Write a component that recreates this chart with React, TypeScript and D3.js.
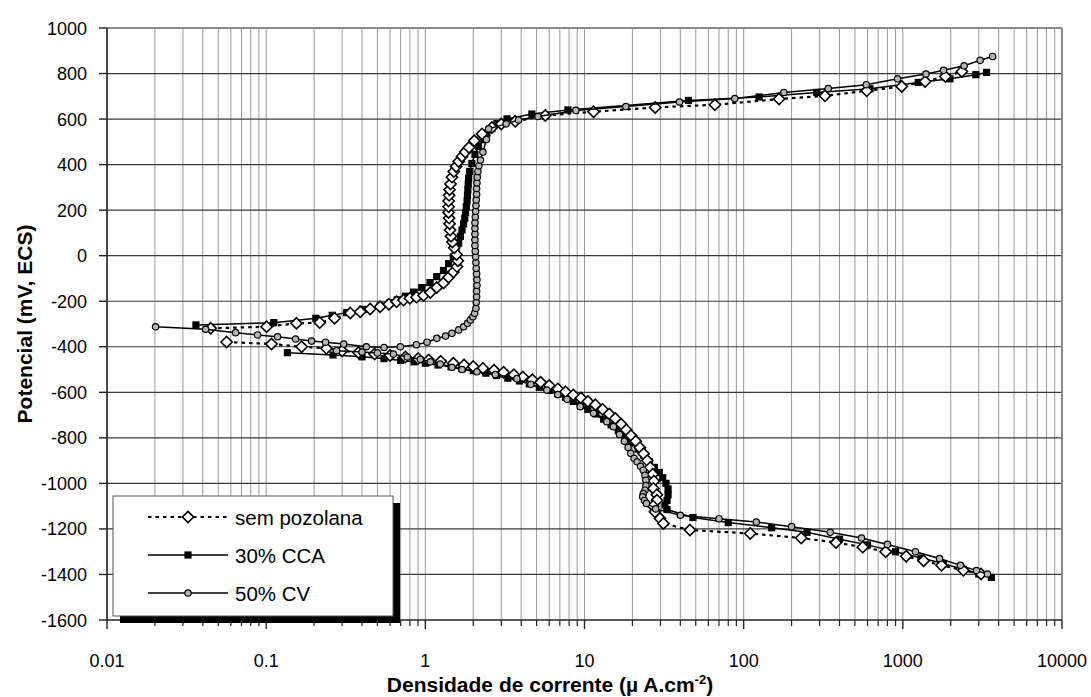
import React from 'react';
import * as d3 from 'd3';

type Pt = [number, number]; // [current density µA/cm², potential mV]

const xTickValues = [0.01, 0.1, 1, 10, 100, 1000, 10000];
const xTickLabels = ['0.01', '0.1', '1', '10', '100', '1000', '10000'];
const yTickValues = [-1600, -1400, -1200, -1000, -800, -600, -400, -200, 0, 200, 400, 600, 800, 1000];
const yTickLabels = ['-1600', '-1400', '-1200', '-1000', '-800', '-600', '-400', '-200', '0', '200', '400', '600', '800', '1000'];
const seriesNames = ['sem pozolana', '30% CCA', '50% CV'];

// sem pozolana (diamonds)
const semPozolanaCatodico: Pt[] = [
  [0.0564, -379], [0.108, -388], [0.167, -400], [0.239, -407], [0.30, -418], [0.38, -425], [0.48, -432],
  [0.6, -438], [0.75, -445], [0.9, -452], [1.05, -458], [1.25, -464], [1.5, -472], [1.75, -480], [2.0, -487],
  [2.3, -495], [2.7, -503], [3.1, -512], [3.6, -523], [4.1, -533], [4.7, -545], [5.3, -556], [6.0, -570],
  [6.8, -585], [7.6, -598], [8.5, -612], [9.5, -625], [10.5, -640], [11.7, -655], [13, -675], [14.3, -695],
  [15.6, -715], [17, -740], [18.3, -765], [19.6, -790], [21, -815], [22.3, -843], [23.5, -870], [24.8, -900],
  [25.9, -930], [26.8, -960], [27.3, -990], [27.1, -1022], [28.5, -1050], [28.5, -1074], [27.0, -1100],
  [27.7, -1125], [29.8, -1154], [31.3, -1176], [46, -1205], [110, -1220], [230, -1240], [380, -1260],
  [560, -1280], [780, -1300], [1050, -1320], [1350, -1340], [1750, -1360], [2400, -1382], [3100, -1398],
];
const semPozolanaAnodico: Pt[] = [
  [0.0448, -319], [0.1006, -312], [0.155, -297], [0.217, -294], [0.269, -275], [0.338, -252], [0.39, -246],
  [0.45, -234], [0.52, -224], [0.59, -213], [0.66, -202], [0.73, -195], [0.8, -187], [0.88, -182],
  [0.975, -175], [1.075, -162], [1.18, -140], [1.30, -120], [1.40, -95], [1.50, -72], [1.58, -48],
  [1.60, -22], [1.57, 5], [1.52, 35], [1.48, 60], [1.45, 85], [1.43, 113], [1.42, 140], [1.41, 165],
  [1.40, 190], [1.40, 215], [1.40, 240], [1.41, 265], [1.42, 290], [1.44, 315], [1.47, 345], [1.51, 370],
  [1.56, 392], [1.62, 414], [1.70, 436], [1.78, 455], [1.88, 475], [2.03, 505], [2.27, 535], [2.62, 563],
  [3.0, 578], [3.67, 590], [5.67, 616], [11.4, 632], [27.8, 651], [66, 663], [167, 688], [324, 702],
  [593, 724], [984, 743], [1380, 765], [1850, 787], [2350, 809],
];

// 30% CCA (filled squares)
const cca30Catodico: Pt[] = [
  [0.136, -426], [0.263, -436], [0.4, -444], [0.55, -452], [0.7, -460], [0.85, -466], [1.0, -472],
  [1.2, -480], [1.45, -488], [1.7, -496], [2.0, -505], [2.4, -516], [2.8, -526], [3.3, -538], [3.9, -550],
  [4.5, -563], [5.2, -578], [6.0, -592], [6.8, -607], [7.6, -622], [8.5, -640], [9.5, -658], [10.5, -675],
  [11.8, -695], [13.2, -718], [14.7, -743], [16.3, -768], [18, -795], [19.8, -822], [21.7, -850],
  [23.6, -878], [25.5, -905], [27.5, -930], [29.5, -952], [31, -975], [32.5, -1000], [33.5, -1025],
  [33.5, -1050], [33, -1075], [32, -1095], [33, -1115], [48, -1150], [80, -1172], [150, -1195],
  [250, -1215], [400, -1245], [600, -1270], [900, -1300], [1300, -1328], [1800, -1352], [2400, -1378],
  [3000, -1398], [3600, -1413],
];
const cca30Anodico: Pt[] = [
  [0.0362, -304], [0.1117, -294], [0.205, -275], [0.26, -262], [0.32, -250], [0.41, -236], [0.52, -220],
  [0.6, -207], [0.665, -194], [0.75, -178], [0.845, -160], [0.95, -140], [1.07, -118], [1.18, -92],
  [1.3, -65], [1.4, -35], [1.5, -5], [1.56, 25], [1.62, 55], [1.66, 85], [1.7, 113], [1.74, 140],
  [1.77, 165], [1.79, 190], [1.81, 215], [1.83, 240], [1.84, 265], [1.85, 290], [1.86, 315], [1.87, 340],
  [1.9, 370], [1.96, 405], [2.05, 445], [2.16, 480], [2.3, 510], [2.44, 538], [2.62, 558], [2.82, 580],
  [3.26, 601], [4.67, 622], [7.87, 640], [45, 682], [125, 697], [288, 717], [622, 733], [1250, 761],
  [1977, 777], [2877, 795], [3360, 805],
];

// 50% CV (grey circles)
const cv50Catodico: Pt[] = [
  [0.277, -417], [0.4, -423], [0.5, -427], [0.63, -432], [0.77, -445], [0.93, -455], [1.075, -466],
  [1.24, -476], [1.47, -490], [1.70, -500], [2.11, -510], [2.75, -522], [3.76, -540], [4.6, -565],
  [5.8, -590], [6.8, -610], [7.76, -631], [9.4, -663], [11.4, -692], [13.8, -729], [15.2, -751],
  [16.6, -785], [17.8, -815], [18.8, -842], [19.5, -868], [20.5, -890], [21.4, -905], [22.5, -925],
  [23.4, -942], [24, -965], [24.3, -986], [24.3, -1010], [24, -1030], [23.4, -1045], [23.2, -1059],
  [23.8, -1075], [24.5, -1088], [28, -1112], [40, -1140], [70, -1155], [120, -1170], [200, -1190],
  [350, -1215], [550, -1240], [800, -1268], [1200, -1300], [1700, -1330], [2300, -1360], [2900, -1383],
  [3400, -1398],
];
const cv50Anodico: Pt[] = [
  [0.0202, -312], [0.0417, -323], [0.0643, -338], [0.0883, -348], [0.118, -356], [0.153, -366],
  [0.193, -375], [0.236, -380], [0.307, -388], [0.426, -400], [0.55, -403], [0.697, -400], [0.878, -391],
  [1.025, -380], [1.18, -363], [1.34, -353], [1.47, -341], [1.62, -326], [1.74, -312], [1.84, -297],
  [1.92, -282], [1.99, -268], [2.04, -253], [2.08, -231], [2.09, -205], [2.1, -180], [2.1, -155],
  [2.11, -130], [2.11, -105], [2.1, -80], [2.09, -55], [2.08, -30], [2.07, -5], [2.06, 20], [2.05, 45],
  [2.05, 70], [2.05, 95], [2.05, 120], [2.05, 145], [2.06, 170], [2.07, 195], [2.08, 220], [2.09, 245],
  [2.1, 270], [2.1, 295], [2.11, 320], [2.12, 345], [2.14, 370], [2.17, 395], [2.22, 420], [2.3, 455],
  [2.42, 510], [2.5, 557], [3.22, 579], [3.85, 596], [5.1, 611], [8.83, 638], [18.2, 655], [39.5, 675],
  [88, 690], [179, 717], [340, 734], [589, 751], [927, 777], [1397, 798], [1803, 814], [2427, 834],
  [3060, 858], [3666, 875],
];

const FONT = "'Liberation Sans', Arial, Helvetica, sans-serif";

const diamondPath = 'M0,-5.6L5.6,0L0,5.6L-5.6,0Z';

function Marker({ kind, cx, cy }: { kind: number; cx: number; cy: number }) {
  if (kind === 0) {
    return <path d={diamondPath} transform={`translate(${cx},${cy})`} fill="#fff" stroke="#000" strokeWidth={1.6} />;
  }
  if (kind === 1) {
    return <rect x={cx - 3.6} y={cy - 3.6} width={7.2} height={7.2} fill="#000" />;
  }
  return <circle cx={cx} cy={cy} r={3.2} fill="#b4b4b4" stroke="#000" strokeWidth={1.2} />;
}

export default function App() {
  const W = 1091;
  const H = 697;
  const L = 107, R = 1062, T = 28, B = 620;
  const x = d3.scaleLog().domain([0.01, 10000]).range([L, R]);
  const y = d3.scaleLinear().domain([-1600, 1000]).range([B, T]);
  const line = d3.line<Pt>().x((d) => x(d[0])).y((d) => y(d[1]));

  const minor: number[] = [];
  xTickValues.slice(0, -1).forEach((dec) => {
    for (let k = 2; k <= 9; k++) minor.push(dec * k);
  });

  const series = [
    { kind: 1, branches: [cca30Catodico, cca30Anodico] },
    { kind: 0, branches: [semPozolanaCatodico, semPozolanaAnodico] },
    { kind: 2, branches: [cv50Catodico, cv50Anodico] },
  ];

  const legendX = 113, legendY = 496, legendW = 280, legendH = 120;
  const legendRows = [517, 555, 593];

  return (
    <svg width={W} height={H} style={{ position: 'absolute', left: 0, top: 0, background: '#fff' }} fontFamily={FONT}>
      <rect x={0} y={0} width={W} height={H} fill="#fff" />
      {minor.map((v, i) => (
        <line key={'vm' + i} x1={x(v)} x2={x(v)} y1={T} y2={B} stroke="#9a9a9a" strokeWidth={1} />
      ))}
      {xTickValues.slice(1, -1).map((v, i) => (
        <line key={'vM' + i} x1={x(v)} x2={x(v)} y1={T} y2={B} stroke="#9a9a9a" strokeWidth={1} />
      ))}
      {yTickValues.slice(1, -1).map((v, i) => (
        <line key={'h' + i} x1={L} x2={R} y1={y(v)} y2={y(v)} stroke="#3a3a3a" strokeWidth={1.2} />
      ))}
      <line x1={L} x2={R} y1={T} y2={T} stroke="#8a8a8a" strokeWidth={2} />
      <line x1={R} x2={R} y1={T} y2={B} stroke="#8a8a8a" strokeWidth={2} />
      <line x1={L} x2={L} y1={T} y2={B} stroke="#333" strokeWidth={1.8} />
      <line x1={L} x2={R} y1={B} y2={B} stroke="#222" strokeWidth={1.6} />
      {yTickValues.map((v, i) => (
        <g key={'yt' + i}>
          <line x1={L - 8} x2={L} y1={y(v)} y2={y(v)} stroke="#222" strokeWidth={1.4} />
          <text x={87} y={y(v) + 6.5} textAnchor="end" fontSize={18} fill="#000">{yTickLabels[i]}</text>
        </g>
      ))}
      {minor.map((v, i) => (
        <line key={'xm' + i} x1={x(v)} x2={x(v)} y1={B} y2={B + 6} stroke="#222" strokeWidth={1.2} />
      ))}
      {xTickValues.map((v, i) => (
        <g key={'xt' + i}>
          <line x1={x(v)} x2={x(v)} y1={B} y2={B + 9} stroke="#222" strokeWidth={1.4} />
          <text x={x(v)} y={667} textAnchor="middle" fontSize={18} fill="#000">{xTickLabels[i]}</text>
        </g>
      ))}
      {series.map((s, si) => (
        <g key={'s' + si}>
          {s.branches.map((b, bi) => (
            <path key={'l' + bi} d={line(b) || ''} fill="none" stroke="#000"
              strokeWidth={s.kind === 0 ? 2.2 : 1.5}
              strokeDasharray={s.kind === 0 ? '3.5,4' : undefined} />
          ))}
          {s.branches.map((b, bi) =>
            b.map((d, di) => <Marker key={`m${bi}-${di}`} kind={s.kind} cx={x(d[0])} cy={y(d[1])} />)
          )}
        </g>
      ))}
      <rect x={legendX + 7} y={legendY + 7} width={legendW} height={legendH} fill="#000" />
      <rect x={legendX} y={legendY} width={legendW} height={legendH} fill="#fff" stroke="#555" strokeWidth={1} />
      {seriesNames.map((name, i) => {
        const kind = i;
        const cy = legendRows[i];
        return (
          <g key={'lg' + i}>
            <line x1={148} x2={228} y1={cy} y2={cy} stroke="#000"
              strokeWidth={kind === 0 ? 2.2 : 1.5} strokeDasharray={kind === 0 ? '3.5,4' : undefined} />
            <Marker kind={kind} cx={188} cy={cy} />
            <text x={235} y={cy + 7.5} fontSize={20.5} fill="#000" style={{ whiteSpace: 'pre' }}>{name}</text>
          </g>
        );
      })}
      <text transform="translate(32,324) rotate(-90)" textAnchor="middle" fontSize={21} fontWeight="bold" fill="#000">
        Potencial (mV, ECS)
      </text>
      <text x={550} y={692} textAnchor="middle" fontSize={21} fontWeight="bold" fill="#000">
        Densidade de corrente (µ A.cm<tspan dy={-8} fontSize={13}>-2</tspan><tspan dy={8}>)</tspan>
      </text>
    </svg>
  );
}
